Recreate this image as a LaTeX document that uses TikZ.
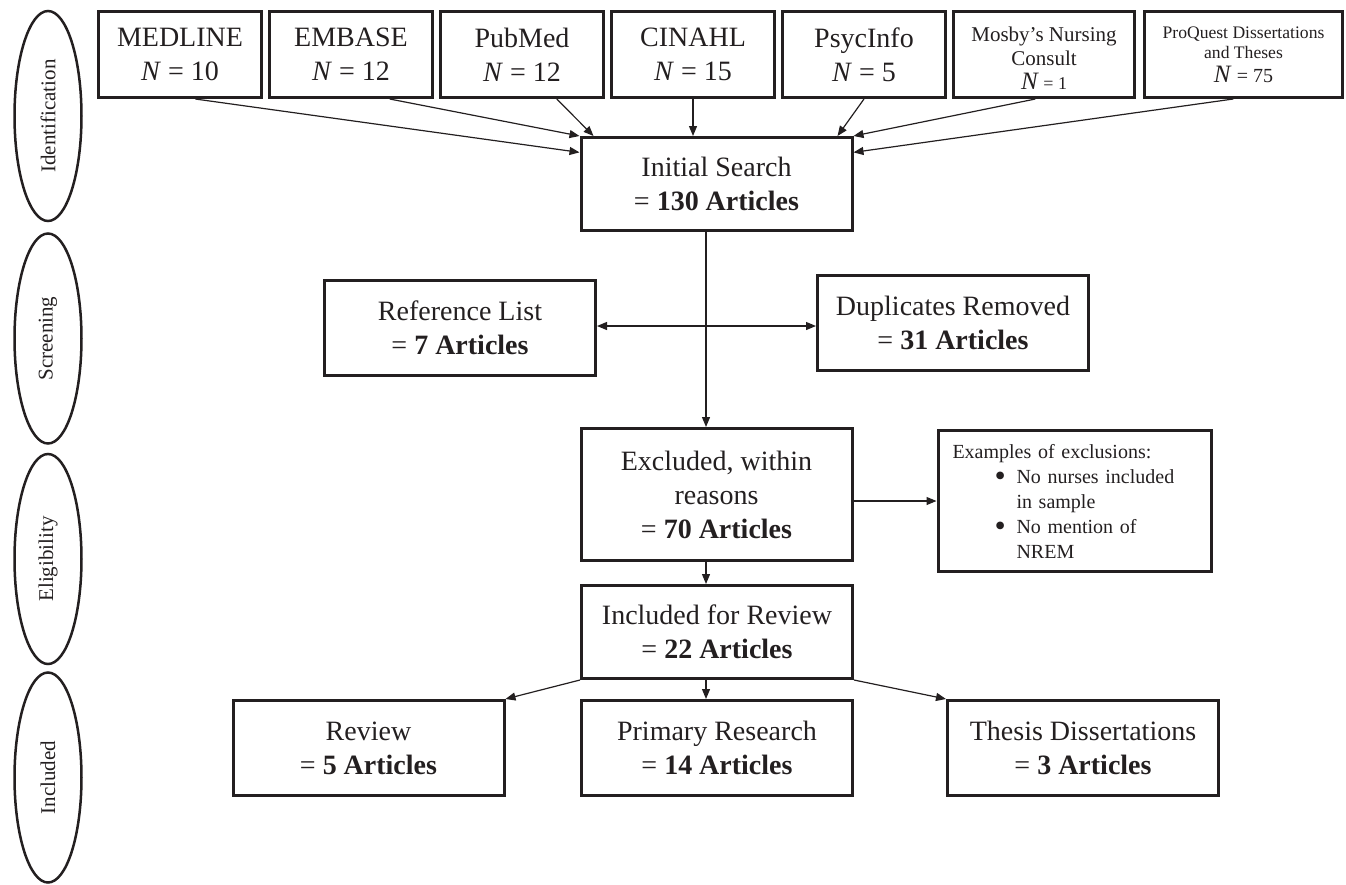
\documentclass[tikz,border=0pt]{standalone}
\usepackage{fontspec}
\setmainfont{Liberation Serif}
\usetikzlibrary{arrows.meta,shapes.geometric}
\definecolor{ink}{HTML}{231F20}
\newcommand{\exbullet}{\makebox[22pt][l]{\smash{\raisebox{-3.5pt}{\fontsize{32}{25}\selectfont\textbullet}}}}
\tikzset{
  srcbox/.style={draw=ink, line width=3pt, minimum width=163pt, minimum height=86pt,
    inner sep=0pt, align=center, font=\fontsize{28}{34}\selectfont},
  stagebox/.style={draw=ink, line width=3pt, minimum width=271pt, minimum height=95pt,
    inner sep=0pt, align=center, font=\fontsize{28}{34}\selectfont},
  phase/.style={draw=ink, line width=2.5pt, ellipse, rotate=90, minimum width=210pt,
    minimum height=67pt, inner sep=0pt, font=\fontsize{21}{25}\selectfont},
  flow/.style={-{Triangle[length=10pt,width=8pt]}, draw=ink, line width=1.2pt}
}
\begin{document}
\begin{tikzpicture}[x=1pt,y=-1pt,text=ink]
      \useasboundingbox (0,0) rectangle (1346,884);
      % phases
      \node[phase] (ident) at (48,116) {Identification};
      \node[phase] (screen) at (48,338.5) {Screening};
      \node[phase] (elig) at (48,559) {Eligibility};
      \node[phase] (incl) at (48,777.5) {Included};
      % databases
      \node[srcbox] (medline) at (180,54.5) {MEDLINE\\\textit{N} = 10};
      \node[srcbox] (embase) at (351,54.5) {EMBASE\\\textit{N} = 12};
      \node[srcbox] (pubmed) at (522,54.5) {PubMed\\\textit{N} = 12};
      \node[srcbox] (cinahl) at (693,54.5) {CINAHL\\\textit{N} = 15};
      \node[srcbox] (psycinfo) at (864,54.5) {PsycInfo\\\textit{N} = 5};
      \node[srcbox, minimum width=181pt, font=\fontsize{21}{24}\selectfont] (mosby) at (1044,54.5)
        {\rule{0pt}{22pt}Mosby's Nursing\\Consult\\{\fontsize{25}{24}\selectfont\textit{N}}{\fontsize{18}{24}\selectfont\ = 1}};
      \node[srcbox, minimum width=198pt, font=\fontsize{17.6}{20}\selectfont] (proquest) at (1243.5,54.5)
        {ProQuest Dissertations\\and Theses\\[4pt]{\fontsize{25}{24}\selectfont\textit{N}}{\fontsize{20}{24}\selectfont\ = 75}};
      % stages
      \node[stagebox, minimum height=93pt] (initial) at (716.5,184) {Initial Search\\= \textbf{130 Articles}};
      \node[stagebox] (reflist) at (460,328) {Reference List\\= \textbf{7 Articles}};
      \node[stagebox] (dupl) at (953,323) {Duplicates Removed\\= \textbf{31 Articles}};
      \node[stagebox, minimum height=132pt] (excluded) at (716.5,494.5) {Excluded, within\\reasons\\= \textbf{70 Articles}};
      \node[stagebox, minimum height=141pt, text width=244pt, inner xsep=14.5pt, align=left,
        font=\fontsize{20}{25}\selectfont] (examples) at (1074.5,501)
        {Examples of exclusions:\\
         \hspace*{42pt}\exbullet No nurses included\\
         \hspace*{64pt}in sample\\
         \hspace*{42pt}\exbullet No mention of\\
         \hspace*{64pt}NREM};
      \node[stagebox, minimum height=93pt] (included) at (717,632) {Included for Review\\= \textbf{22 Articles}};
      \node[stagebox] (review) at (368.5,748) {Review\\= \textbf{5 Articles}};
      \node[stagebox] (primary) at (717,748) {Primary Research\\= \textbf{14 Articles}};
      \node[stagebox] (thesis) at (1083,748) {Thesis Dissertations\\= \textbf{3 Articles}};
      \coordinate (split) at (706,326);
      \begin{scope}[flow]
        \draw (medline.-71) to (initial.167);
        \draw (embase.-49) to (initial.north west);
        \draw (pubmed.-52) to ([xshift=14pt]initial.north west);
        \draw (cinahl.south) to (cinahl.south |- initial.north);
        \draw (psycinfo.south) to ([xshift=-16pt]initial.north east);
        \draw (mosby.-101) to (initial.north east);
        \draw (proquest.-103) to (initial.13);
        \draw (split |- initial.south) to (split |- excluded.north);
        \draw (split) to (split -| reflist.east);
        \draw (split) to (split -| dupl.west);
        \draw (excluded.east |- examples.west) to (examples.west);
        \draw (split |- excluded.south) to (split |- included.north);
        \draw (included.south west) to (review.north east);
        \draw (split |- included.south) to (split |- primary.north);
        \draw (included.south east) to (thesis.north west);
      \end{scope}
    \end{tikzpicture}
\end{document}
